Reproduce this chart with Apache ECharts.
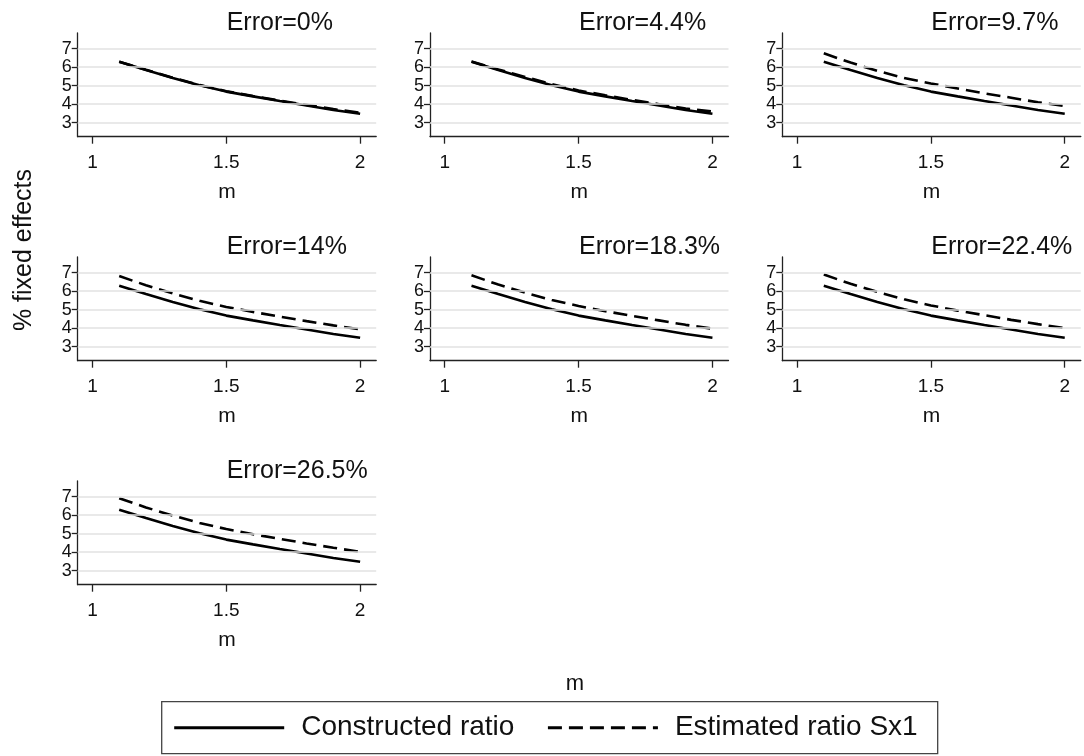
<!DOCTYPE html>
<html>
<head>
<meta charset="utf-8">
<script src="https://cdn.jsdelivr.net/npm/echarts@6/dist/echarts.min.js"></script>
<style>
html,body{margin:0;padding:0;background:#fff;}
#chart{width:1084px;height:756px;}
</style>
</head>
<body>
<div id="chart"></div>
<script>
// ---- data ----
const mValues = [1.1, 1.2, 1.3, 1.4, 1.5, 1.6, 1.7, 1.8, 1.9, 2.0];
const panelTitles = ['Error=0%', 'Error=4.4%', 'Error=9.7%', 'Error=14%', 'Error=18.3%', 'Error=22.4%', 'Error=26.5%'];
const constructedRatio = [6.30, 5.85, 5.42, 5.02, 4.68, 4.42, 4.17, 3.93, 3.68, 3.48];
const estimatedErr0    = [6.30, 5.86, 5.43, 5.04, 4.70, 4.44, 4.19, 3.96, 3.73, 3.54];
const estimatedErr4_4  = [6.31, 5.88, 5.47, 5.08, 4.74, 4.48, 4.23, 4.00, 3.76, 3.60];
const estimatedErr9_7  = [6.75, 6.25, 5.80, 5.42, 5.12, 4.85, 4.58, 4.35, 4.10, 3.90];
const estimatedErr14   = [6.82, 6.32, 5.88, 5.48, 5.15, 4.88, 4.62, 4.38, 4.15, 3.94];
const estimatedErr18_3 = [6.86, 6.36, 5.92, 5.52, 5.20, 4.92, 4.66, 4.42, 4.18, 3.97];
const estimatedErr22_4 = [6.90, 6.40, 5.96, 5.56, 5.23, 4.95, 4.70, 4.45, 4.22, 4.00];
const estimatedErr26_5 = [6.92, 6.42, 5.98, 5.58, 5.25, 4.97, 4.72, 4.47, 4.24, 4.02];
const xTickValues = [1, 1.5, 2];
const yTickValues = [3, 4, 5, 6, 7];
const seriesNames = ['Constructed ratio', 'Estimated ratio Sx1'];
const axisTitleX = 'm';
const axisTitleY = '% fixed effects';

const estimatedByPanel = [estimatedErr0, estimatedErr4_4, estimatedErr9_7, estimatedErr14,
                          estimatedErr18_3, estimatedErr22_4, estimatedErr26_5];

// ---- layout ----
const FONT = '"Liberation Sans", Arial, Helvetica, sans-serif';
const TXT = '#111';
const colStep = 352.3, rowStep = 224;
const gridLeft0 = 77.7, gridTop0 = 33, gridW = 298.5, gridH = 103.7;

const grids = [], xAxes = [], yAxes = [], series = [], titles = [];
panelTitles.forEach((t, i) => {
  const r = Math.floor(i / 3), c = i % 3;
  grids.push({left: gridLeft0 + c * colStep, top: gridTop0 + r * rowStep, width: gridW, height: gridH});
  titles.push({
    text: t, left: 226.7 + c * colStep, top: 11 + r * rowStep, padding: 0,
    textStyle: {fontFamily: FONT, fontSize: 25, fontWeight: 'normal', color: TXT, lineHeight: 25}
  });
  xAxes.push({
    type: 'value', gridIndex: i, min: 0.945, max: 2.06,
    axisLine: {show: true, onZero: false, lineStyle: {color: '#222', width: 1.3}},
    axisTick: {show: true, customValues: xTickValues, length: 7, lineStyle: {color: '#222', width: 1.3}},
    axisLabel: {show: true, customValues: xTickValues, margin: 17, fontFamily: FONT, fontSize: 19, color: TXT,
                formatter: v => String(v)},
    splitLine: {show: false},
    name: axisTitleX, nameLocation: 'middle', nameGap: 45,
    nameTextStyle: {fontFamily: FONT, fontSize: 21, color: TXT}
  });
  yAxes.push({
    type: 'value', gridIndex: i, min: 2.24, max: 7.85,
    axisLine: {show: true, onZero: false, lineStyle: {color: '#222', width: 1.3}},
    axisTick: {show: true, customValues: yTickValues, length: 6, lineStyle: {color: '#222', width: 1.3}},
    axisLabel: {show: true, customValues: yTickValues, interval: 0, margin: 6, fontFamily: FONT, fontSize: 18, color: TXT},
    splitLine: {show: false}
  });
  // gridlines
  series.push({
    type: 'line', xAxisIndex: i, yAxisIndex: i, data: [], silent: true, z: 1,
    markLine: {
      silent: true, symbol: ['none', 'none'], label: {show: false},
      lineStyle: {color: '#e2e2e2', width: 1.7, type: 'solid'},
      emphasis: {disabled: true},
      data: yTickValues.map(v => ({yAxis: v}))
    }
  });
  series.push({
    name: seriesNames[0], type: 'line', xAxisIndex: i, yAxisIndex: i, z: 3,
    data: mValues.map((m, k) => [m, constructedRatio[k]]),
    symbol: 'none', color: '#000',
    lineStyle: {color: '#000', width: 2.6, type: 'solid'}
  });
  series.push({
    name: seriesNames[1], type: 'line', xAxisIndex: i, yAxisIndex: i, z: 4,
    data: mValues.map((m, k) => [m, estimatedByPanel[i][k]]),
    symbol: 'none', color: '#000',
    lineStyle: {color: '#000', width: 2.6, type: [14, 7]}
  });
});

const option = {
  backgroundColor: '#fff',
  animation: false,
  title: titles,
  grid: grids,
  xAxis: xAxes,
  yAxis: yAxes,
  series: series,
  legend: {
    data: seriesNames,
    left: 161.7, top: 701.7,
    orient: 'horizontal',
    itemWidth: 110, itemHeight: 14, itemGap: 32,
    padding: [12, 20, 12, 11],
    borderColor: '#444', borderWidth: 1.3,
    itemStyle: {opacity: 0, borderWidth: 0},
    lineStyle: {width: 3},
    textStyle: {fontFamily: FONT, fontSize: 28, color: TXT, padding: [0, 0, 0, 12]},
    selectedMode: false
  },
  graphic: [
    {type: 'text', x: 24, y: 250, rotation: Math.PI / 2,
     style: {text: axisTitleY, fontFamily: FONT, fontSize: 25, fill: TXT, align: 'center', verticalAlign: 'middle'}},
    {type: 'text', x: 575, y: 684,
     style: {text: axisTitleX, fontFamily: FONT, fontSize: 22, fill: TXT, align: 'center', verticalAlign: 'middle'}}
  ]
};

const chart = echarts.init(document.getElementById('chart'), null, {renderer: 'canvas', width: 1084, height: 756});
chart.setOption(option);
</script>
</body>
</html>
